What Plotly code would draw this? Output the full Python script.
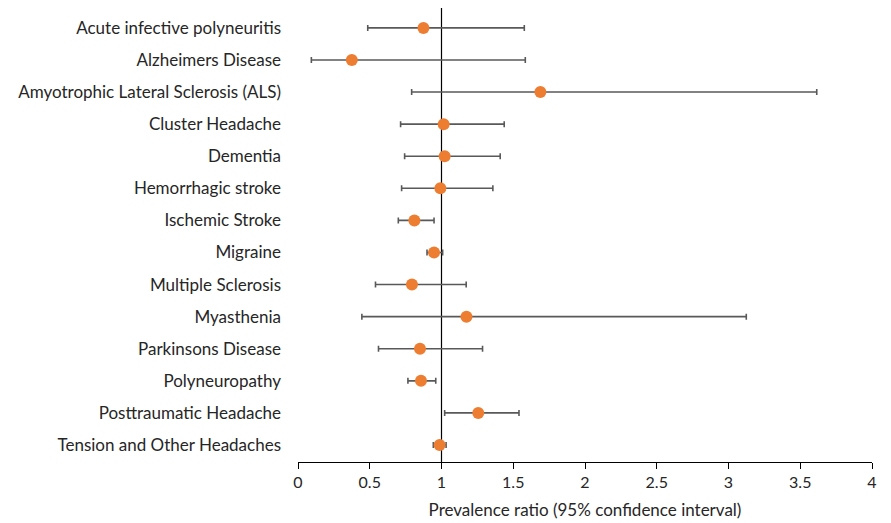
import plotly.graph_objects as go

conditions = [
    "Acute infective polyneuritis",
    "Alzheimers Disease",
    "Amyotrophic Lateral Sclerosis (ALS)",
    "Cluster Headache",
    "Dementia",
    "Hemorrhagic stroke",
    "Ischemic Stroke",
    "Migraine",
    "Multiple Sclerosis",
    "Myasthenia",
    "Parkinsons Disease",
    "Polyneuropathy",
    "Posttraumatic Headache",
    "Tension and Other Headaches",
]
ratio = [0.874, 0.375, 1.689, 1.015, 1.022, 0.992, 0.811, 0.948, 0.794, 1.174, 0.850, 0.857, 1.256, 0.987]
lower = [0.486, 0.093, 0.792, 0.715, 0.743, 0.722, 0.699, 0.899, 0.540, 0.445, 0.561, 0.766, 1.022, 0.943]
upper = [1.577, 1.584, 3.615, 1.437, 1.409, 1.358, 0.948, 1.008, 1.172, 3.124, 1.286, 0.960, 1.540, 1.032]

err_plus = [u - r for u, r in zip(upper, ratio)]
err_minus = [r - l for r, l in zip(ratio, lower)]

fig = go.Figure()
fig.add_vline(x=1, line=dict(color="black", width=1.2), layer="below")
fig.add_trace(go.Scatter(
    x=ratio, y=conditions, mode="markers",
    marker=dict(color="#ED7D31", size=12),
    error_x=dict(type="data", symmetric=False, array=err_plus, arrayminus=err_minus,
                 color="#595959", thickness=1.6, width=3),
    showlegend=False,
))

fig.update_layout(
    width=891, height=523,
    margin=dict(l=290, r=27, t=0, b=69),
    paper_bgcolor="white", plot_bgcolor="white",
    font=dict(family="Lato, 'Open Sans', sans-serif", size=17, color="#262626"),
    xaxis=dict(
        range=[0, 4],
        tickvals=[0, 0.5, 1, 1.5, 2, 2.5, 3, 3.5, 4],
        ticktext=["0", "0.5", "1", "1.5", "2", "2.5", "3", "3.5", "4"],
        showgrid=False, zeroline=False,
        showline=True, linecolor="black", linewidth=1.2,
        ticks="outside", ticklen=6, tickcolor="black", tickwidth=1.2,
        tickfont=dict(size=16, color="#262626"),
        title=dict(text="Prevalence ratio (95% confidence interval)", font=dict(size=17, color="#262626"), standoff=13),
    ),
    yaxis=dict(
        type="category", categoryorder="array", categoryarray=conditions,
        range=[13.53, -0.62],
        showgrid=False, zeroline=False, showline=False, ticks="",
        ticklabelstandoff=16,
        tickfont=dict(size=17, color="#262626"),
    ),
)

fig.write_html("out.html")
